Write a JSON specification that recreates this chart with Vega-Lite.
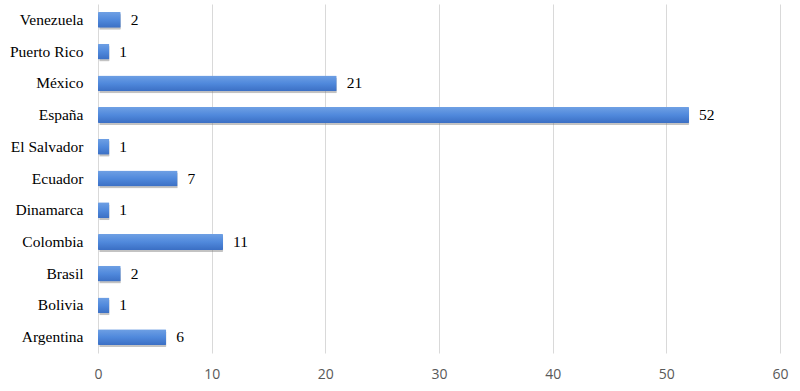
{
  "$schema": "https://vega.github.io/schema/vega-lite/v6.json",
  "autosize": {"type": "none"},
  "width": 682,
  "height": 349,
  "padding": {"left": 98, "top": 4, "right": 20, "bottom": 38},
  "background": "white",
  "config": {"view": {"stroke": null}},
  "data": {
    "values": [
      {"pais": "Venezuela", "n": 2},
      {"pais": "Puerto Rico", "n": 1},
      {"pais": "México", "n": 21},
      {"pais": "España", "n": 52},
      {"pais": "El Salvador", "n": 1},
      {"pais": "Ecuador", "n": 7},
      {"pais": "Dinamarca", "n": 1},
      {"pais": "Colombia", "n": 11},
      {"pais": "Brasil", "n": 2},
      {"pais": "Bolivia", "n": 1},
      {"pais": "Argentina", "n": 6}
    ]
  },
  "encoding": {
    "y": {
      "field": "pais",
      "type": "nominal",
      "sort": null,
      "scale": {"paddingInner": 0.5, "paddingOuter": 0.25},
      "axis": {
        "title": null,
        "domain": false,
        "ticks": false,
        "labelPadding": 15,
        "labelFont": "Liberation Serif",
        "labelFontSize": 15.5,
        "labelColor": "#000000"
      }
    },
    "x": {
      "field": "n",
      "type": "quantitative",
      "scale": {"domain": [0, 60], "nice": false},
      "axis": {
        "title": null,
        "values": [0, 10, 20, 30, 40, 50, 60],
        "domain": false,
        "ticks": false,
        "grid": true,
        "gridColor": "#d9d9d9",
        "gridWidth": 1,
        "labelFlush": false,
        "labelPadding": 14,
        "labelFont": "Open Sans",
        "labelFontSize": 14,
        "labelColor": "#595959"
      }
    }
  },
  "layer": [
    {
      "mark": {"type": "bar", "color": "#7a7a7a", "opacity": 0.45, "yOffset": 2, "xOffset": 1.5, "cornerRadius": 1},
      "encoding": {}
    },
    {
      "mark": {
        "type": "bar",
        "cornerRadius": 1,
        "color": {
          "gradient": "linear",
          "x1": 0, "y1": 0, "x2": 0, "y2": 1,
          "stops": [
            {"offset": 0, "color": "#6fa0e4"},
            {"offset": 0.5, "color": "#5089dc"},
            {"offset": 1, "color": "#3b6fc4"}
          ]
        }
      },
      "encoding": {}
    },
    {
      "mark": {
        "type": "text",
        "align": "left",
        "baseline": "middle",
        "dx": 10,
        "font": "Liberation Serif",
        "fontSize": 15.5,
        "color": "#000000"
      },
      "encoding": {"text": {"field": "n", "type": "quantitative"}}
    }
  ]
}
